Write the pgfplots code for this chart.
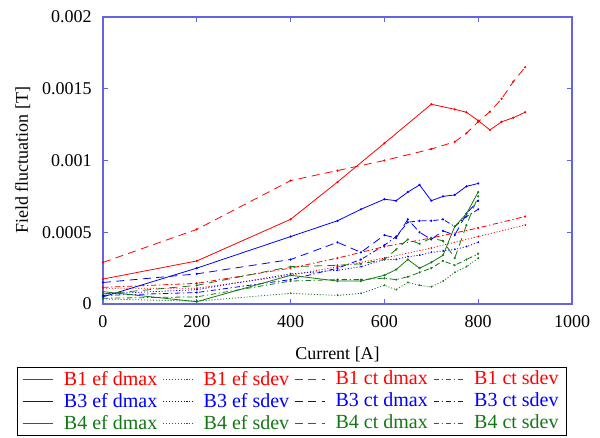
\documentclass[border=0pt]{standalone}
\usepackage{fontspec}
\setmainfont{Liberation Serif}
\usepackage{pgfplots}
\pgfplotsset{compat=1.18}
\definecolor{frameblue}{RGB}{100,100,230}
\definecolor{dgreen}{RGB}{20,120,20}

\begin{document}
\fontsize{13}{15}\selectfont
\begin{tikzpicture}
\begin{axis}[
  name=ax,
  width=351.75pt, height=215.25pt, scale only axis,
  xmin=0, xmax=1000, ymin=0, ymax=0.002,
  xtick={0,200,400,600,800,1000},
  xticklabels={0,200,400,600,800,1000},
  ytick={0,0.0005,0.001,0.0015,0.002},
  yticklabels={0,0.0005,0.001,0.0015,0.002},
  scaled y ticks=false,
  /pgf/number format/assume math mode=true,
  tick label style={font=\fontsize{13.5}{15}\selectfont},
  xticklabel style={yshift=-4pt},
  yticklabel style={xshift=-4pt},
  label style={font=\fontsize{13.5}{15}\selectfont},
  xlabel={Current [A]}, ylabel={Field fluctuation [T]},
  xlabel style={yshift=-6pt},
  ylabel style={yshift=0pt},
  axis line style={frameblue, line width=0.9pt},
  tick style={frameblue, line width=0.8pt},
  major tick length=4pt,
  tick align=inside,
  every axis plot/.append style={line width=0.6pt, mark=*, mark size=0.5pt},
  legend columns=4,
  legend style={at={(-0.183,-0.218)}, anchor=north west, draw=black,
    line width=0.6pt, font=\fontsize{15}{17}\selectfont,
    /tikz/every even column/.append style={column sep=2pt},
    /tikz/every odd column/.append style={column sep=6pt},
    row sep=0pt, inner xsep=4pt, inner ysep=1pt},
  legend image code/.code={\draw[#1, mark=none] (0cm,0cm) -- (0.78cm,0cm);},
]
% B1
\addplot[red, solid] coordinates {
 (0,0.000174)(200,0.0003)(400,0.00059)(500,0.00085)(600,0.00112)(700,0.001392)
 (750,0.001357)(775,0.001336)(800,0.001278)(825,0.001213)(850,0.00127)(875,0.001298)(900,0.001336)};
\addlegendentry{\textcolor{red}{B1 ef dmax}}
\addplot[red, dash pattern=on 0.8pt off 1.4pt] coordinates {
 (0,0.00011)(200,0.00011)(400,0.0002)(500,0.00026)(600,0.00032)(700,0.00039)(800,0.00047)(900,0.00055)};
\addlegendentry{\textcolor{red}{B1 ef sdev}}
\addplot[red, dash pattern=on 6pt off 4pt] coordinates {
 (0,0.00029)(200,0.00052)(400,0.00086)(500,0.00093)(600,0.001)(700,0.00108)(750,0.00113)
 (775,0.00119)(800,0.00127)(825,0.00134)(850,0.00143)(875,0.00155)(900,0.00165)};
\addlegendentry{\textcolor{red}{B1 ct dmax}}
\addplot[red, dash pattern=on 4pt off 2pt on 1pt off 2pt] coordinates {
 (0,0.000116)(200,0.000144)(400,0.00025)(500,0.00032)(600,0.0004)(700,0.00046)(800,0.00053)(900,0.00061)};
\addlegendentry{\textcolor{red}{B1 ct sdev}}
% B3
\addplot[blue, solid] coordinates {
 (0,0.00005)(200,0.00025)(400,0.00047)(500,0.00058)(550,0.00066)(600,0.00073)(625,0.00072)
 (650,0.00078)(675,0.00083)(700,0.00072)(725,0.00075)(750,0.00076)(775,0.00082)(800,0.00084)};
\addlegendentry{\textcolor{blue}{B3 ef dmax}}
\addplot[blue, dash pattern=on 0.8pt off 1.4pt] coordinates {
 (0,0.00007)(200,0.0001)(400,0.00021)(500,0.000235)(550,0.00026)(600,0.00031)(625,0.00031)
 (650,0.00033)(675,0.00034)(700,0.00036)(725,0.00037)(750,0.00038)(775,0.0004)(800,0.00043)};
\addlegendentry{\textcolor{blue}{B3 ef sdev}}
\addplot[blue, dash pattern=on 6pt off 4pt] coordinates {
 (0,0.00015)(200,0.00021)(400,0.00031)(500,0.00043)(550,0.00036)(600,0.00048)(625,0.00046)
 (650,0.00059)(675,0.0005)(700,0.00045)(725,0.00051)(750,0.00048)(775,0.00063)(800,0.00072)};
\addlegendentry{\textcolor{blue}{B3 ct dmax}}
\addplot[blue, dash pattern=on 4pt off 2pt on 1pt off 2pt] coordinates {
 (0,0.00006)(200,0.00008)(400,0.00017)(500,0.00025)(550,0.00031)(600,0.00041)(625,0.00047)
 (650,0.00057)(675,0.00058)(700,0.00058)(725,0.00059)(750,0.00054)(775,0.00061)(800,0.00066)};
\addlegendentry{\textcolor{blue}{B3 ct sdev}}
% B4
\addplot[dgreen, solid] coordinates {
 (0,0.000086)(200,0.000016)(400,0.0002)(500,0.00016)(550,0.00016)(600,0.0002)(625,0.00024)
 (650,0.00031)(675,0.00025)(700,0.00029)(725,0.00034)(750,0.00054)(775,0.00063)(800,0.00078)};
\addlegendentry{\textcolor{dgreen}{B4 ef dmax}}
\addplot[dgreen, dash pattern=on 0.8pt off 1.4pt] coordinates {
 (0,0.000035)(200,0.00002)(400,0.000074)(500,0.00006)(550,0.000074)(600,0.00013)(625,0.0001)
 (650,0.00015)(675,0.00013)(700,0.00012)(725,0.00016)(750,0.00022)(775,0.00026)(800,0.00032)};
\addlegendentry{\textcolor{dgreen}{B4 ef sdev}}
\addplot[dgreen, dash pattern=on 6pt off 4pt] coordinates {
 (0,0.00007)(200,0.00013)(400,0.00026)(500,0.00027)(550,0.00028)(600,0.00031)(625,0.00038)
 (650,0.00045)(675,0.00042)(700,0.00046)(725,0.00044)(750,0.00032)(775,0.00055)(800,0.00075)};
\addlegendentry{\textcolor{dgreen}{B4 ct dmax}}
\addplot[dgreen, dash pattern=on 4pt off 2pt on 1pt off 2pt] coordinates {
 (0,0.00004)(200,0.00005)(400,0.00016)(500,0.00017)(550,0.00017)(600,0.00018)(625,0.00017)
 (650,0.00019)(675,0.00022)(700,0.00025)(725,0.0003)(750,0.00027)(775,0.00031)(800,0.00035)};
\addlegendentry{\textcolor{dgreen}{B4 ct sdev}}
\end{axis}
\pgfresetboundingbox
\path[use as bounding box] ([xshift=-77.25pt,yshift=-99.75pt]ax.south west)
  rectangle ([xshift=21pt,yshift=12.75pt]ax.north east);
\end{tikzpicture}
\end{document}
